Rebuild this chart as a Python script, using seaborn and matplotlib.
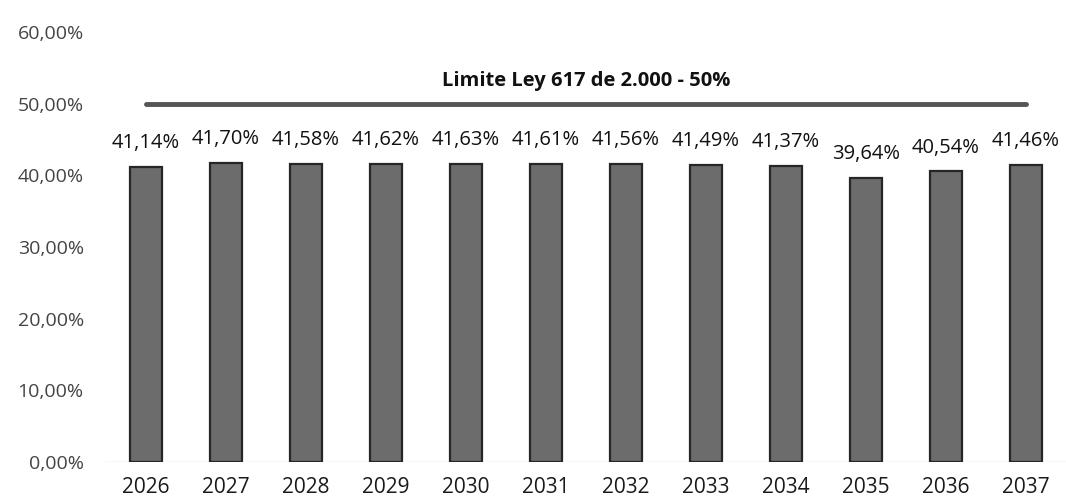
import matplotlib
matplotlib.use("Agg")
import matplotlib.pyplot as plt
import seaborn as sns
import pandas as pd

years = ["2026", "2027", "2028", "2029", "2030", "2031", "2032", "2033", "2034", "2035", "2036", "2037"]
ratios = [41.14, 41.70, 41.58, 41.62, 41.63, 41.61, 41.56, 41.49, 41.37, 39.64, 40.54, 41.46]
limit_value = 50.0
limit_label = "Limite Ley 617 de 2.000 - 50%"
y_ticks = [0, 10, 20, 30, 40, 50, 60]

sns.set_theme(style="white")
plt.rcParams["font.family"] = ["Open Sans", "DejaVu Sans"]

df = pd.DataFrame({"year": years, "ratio": ratios})

fig = plt.figure(figsize=(10.66, 5.04), dpi=100)
ax = fig.add_axes([106 / 1066, 42 / 504, 960 / 1066, 430 / 504])

sns.barplot(data=df, x="year", y="ratio", color="#6c6c6c", width=0.41,
            edgecolor="#262626", linewidth=1.6, saturation=1, ax=ax)

for i, v in enumerate(ratios):
    ax.annotate(f"{v:.2f}%".replace(".", ","), (i, v), xytext=(0, 10),
                textcoords="offset points", ha="center", va="bottom",
                fontsize=14.5, color="#111111")

ax.plot([0, len(years) - 1], [limit_value, limit_value], color="#555555",
        linewidth=3.5, solid_capstyle="round", zorder=3)
ax.text((len(years) - 1) / 2, limit_value + 1.8, limit_label, ha="center",
        va="bottom", fontsize=14.5, fontweight="bold", color="#111111")

ax.set_ylim(0, 60)
ax.set_xlim(-0.5, len(years) - 0.5)
ax.set_yticks(y_ticks)
ax.set_yticklabels([f"{t:.2f}%".replace(".", ",") for t in y_ticks])
ax.tick_params(axis="y", labelsize=14, labelcolor="#444444", length=0, pad=16)
ax.tick_params(axis="x", labelsize=15, labelcolor="#1a1a1a", length=0, pad=11)
ax.set_xlabel("")
ax.set_ylabel("")
for s in ax.spines.values():
    s.set_visible(False)
ax.axhline(0, color="#d9d9d9", linewidth=1, zorder=0)

fig.savefig("out.png", dpi=100, facecolor="white")
